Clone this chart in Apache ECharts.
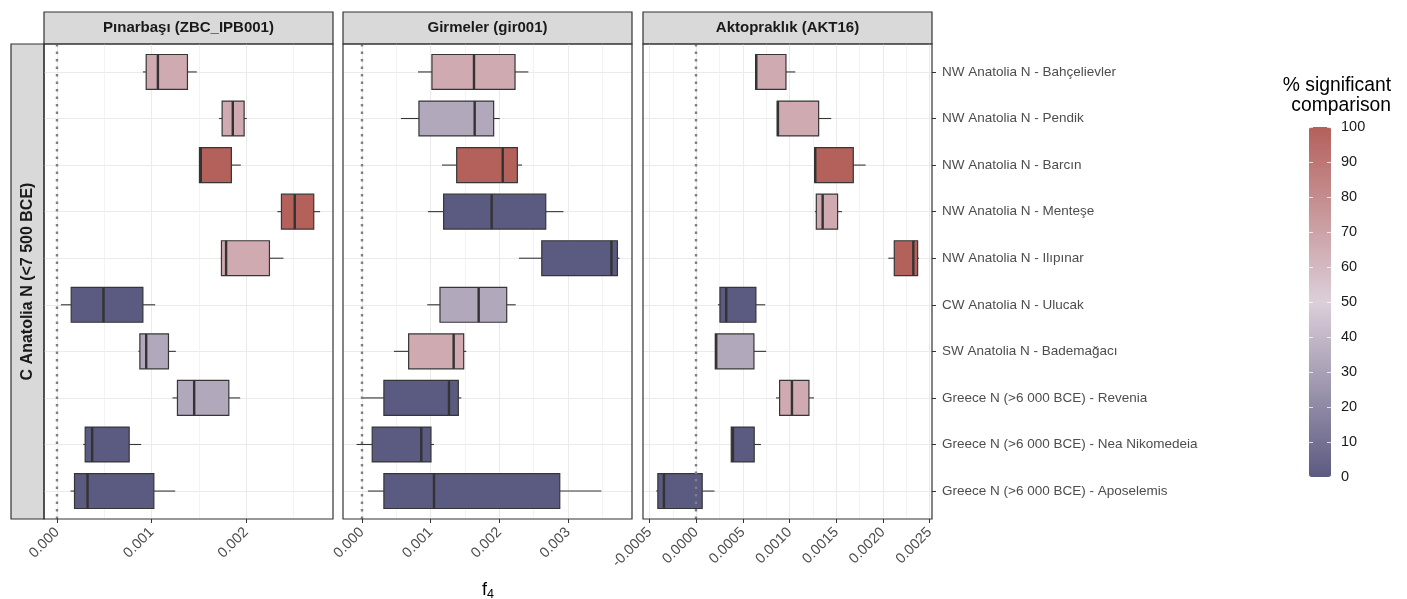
<!DOCTYPE html>
<html>
<head>
<meta charset="utf-8">
<script src="https://cdn.jsdelivr.net/npm/echarts@6/dist/echarts.min.js"></script>
<style>
  html, body { margin: 0; background: #fff; }
  #chart { width: 1407px; height: 599px; }
</style>
</head>
<body>
<div id="chart"></div>
<script>
var populations = [
  'NW Anatolia N - Bahçelievler',
  'NW Anatolia N - Pendik',
  'NW Anatolia N - Barcın',
  'NW Anatolia N - Menteşe',
  'NW Anatolia N - Ilıpınar',
  'CW Anatolia N - Ulucak',
  'SW Anatolia N - Bademağacı',
  'Greece N (>6 000 BCE) - Revenia',
  'Greece N (>6 000 BCE) - Nea Nikomedeia',
  'Greece N (>6 000 BCE) - Aposelemis'
]
var panelTitles = ['Pınarbaşı (ZBC_IPB001)', 'Girmeler (gir001)', 'Aktopraklık (AKT16)']
var rowTitle = 'C Anatolia N (<7 500 BCE)'

// [low whisker, q1, median, q3, high whisker]
var boxPinarbasi = [
  [0.000907, 0.000942, 0.001066, 0.001379, 0.001478],
  [0.001714, 0.001746, 0.001859, 0.001979, 0.002007],
  [0.001506, 0.001506, 0.001520, 0.001844, 0.001944],
  [0.002331, 0.002374, 0.002515, 0.002716, 0.002783],
  [0.001732, 0.001739, 0.001788, 0.002247, 0.002395],
  [0.000039, 0.000148, 0.000490, 0.000907, 0.001037],
  [0.000860, 0.000875, 0.000942, 0.001178, 0.001256],
  [0.001220, 0.001273, 0.001450, 0.001817, 0.001937],
  [0.000275, 0.000296, 0.000370, 0.000762, 0.000889],
  [0.000141, 0.000183, 0.000321, 0.001023, 0.001249]
]
var boxGirmeler = [
  [0.000816, 0.001019, 0.001631, 0.002228, 0.002422],
  [0.000568, 0.000830, 0.001641, 0.001917, 0.002005],
  [0.001165, 0.001379, 0.002049, 0.002262, 0.002330],
  [0.000961, 0.001189, 0.001888, 0.002675, 0.002932],
  [0.002286, 0.002617, 0.003631, 0.003718, 0.003748],
  [0.000951, 0.001136, 0.001699, 0.002107, 0.002238],
  [0.000466, 0.000680, 0.001335, 0.001481, 0.001519],
  [0.000015, 0.000320, 0.001267, 0.001403, 0.001447],
  [-0.000078, 0.000150, 0.000864, 0.001005, 0.001049],
  [0.000087, 0.000320, 0.001049, 0.002879, 0.003485]
]
var boxAktopraklik = [
  [0.000636, 0.000636, 0.000643, 0.000961, 0.001061],
  [0.000868, 0.000868, 0.000875, 0.001311, 0.001446],
  [0.001268, 0.001268, 0.001275, 0.001682, 0.001814],
  [0.001271, 0.001286, 0.001354, 0.001514, 0.001561],
  [0.002057, 0.002121, 0.002325, 0.002371, 0.002386],
  [0.000232, 0.000254, 0.000321, 0.000639, 0.000739],
  [0.000204, 0.000204, 0.000214, 0.000618, 0.000750],
  [0.000854, 0.000893, 0.001025, 0.001207, 0.001261],
  [0.000375, 0.000375, 0.000393, 0.000621, 0.000693],
  [-0.000429, -0.000411, -0.000346, 0.000064, 0.000196]
]

// % significant comparison
var sigPinarbasi = [66.7, 66.7, 100, 100, 66.7, 0, 33.3, 33.3, 0, 0]
var sigGirmeler = [66.7, 33.3, 100, 0, 0, 33.3, 66.7, 0, 0, 0]
var sigAktopraklik = [66.7, 66.7, 100, 66.7, 100, 0, 33.3, 66.7, 0, 0]

var xMin = [-0.00014, -0.000275, -0.00057]
var xMax = [0.00292, 0.00393, 0.002525]
var majorTicks = [
  [0, 0.001, 0.002],
  [0, 0.001, 0.002, 0.003],
  [-0.0005, 0, 0.0005, 0.001, 0.0015, 0.002, 0.0025]
]
var minorTicks = [
  [0.0005, 0.0015, 0.0025],
  [0.0005, 0.0015, 0.0025, 0.0035],
  [-0.00025, 0.00025, 0.00075, 0.00125, 0.00175, 0.00225]
]
var tickDigits = [3, 3, 4]
var rowPositions = [1, 2, 3, 4, 5, 6, 7, 8, 9, 10]

var boxes = [boxPinarbasi, boxGirmeler, boxAktopraklik]
var sigs = [sigPinarbasi, sigGirmeler, sigAktopraklik]

var gridLeft = [44, 343, 643]
var gridWidth = 289
var gridTop = 44
var gridHeight = 475
var font = 'Liberation Sans, Arial, Helvetica, sans-serif'

var chart = echarts.init(document.getElementById('chart'))

function renderBox(params, api) {
  var y = api.value(5)
  var lo = api.coord([api.value(0), y])
  var q1 = api.coord([api.value(1), y])
  var md = api.coord([api.value(2), y])
  var q3 = api.coord([api.value(3), y])
  var hi = api.coord([api.value(4), y])
  var h = Math.abs(api.size([0, 0.75])[1])
  var fill = api.visual('color')
  var edge = '#363636'
  return {
    type: 'group',
    children: [
      { type: 'line', shape: { x1: lo[0], y1: lo[1], x2: q1[0], y2: q1[1] }, style: { stroke: edge, lineWidth: 1.1 } },
      { type: 'line', shape: { x1: q3[0], y1: q3[1], x2: hi[0], y2: hi[1] }, style: { stroke: edge, lineWidth: 1.1 } },
      { type: 'rect', shape: { x: q1[0], y: q1[1] - h / 2, width: q3[0] - q1[0], height: h }, style: { fill: fill, stroke: edge, lineWidth: 1.2 } },
      { type: 'line', shape: { x1: md[0], y1: md[1] - h / 2, x2: md[0], y2: md[1] + h / 2 }, style: { stroke: '#333', lineWidth: 2.4 } }
    ]
  }
}

var grids = []
var xAxes = []
var yAxes = []
var series = []
var graphics = []

for (var p = 0; p < 3; p++) {
  grids.push({
    left: gridLeft[p], top: gridTop, width: gridWidth, height: gridHeight,
    show: true, backgroundColor: '#fff', borderWidth: 0
  })
  // minor grid lines
  xAxes.push({
    type: 'value', gridIndex: p, min: xMin[p], max: xMax[p], position: 'bottom',
    axisLine: { show: false, onZero: false },
    axisTick: { show: false, customValues: minorTicks[p] },
    axisLabel: { show: false, customValues: minorTicks[p] },
    splitLine: { show: true, lineStyle: { color: '#eeeeee', width: 0.7 } }
  })
  // major grid lines, ticks and labels
  xAxes.push({
    type: 'value', gridIndex: p, min: xMin[p], max: xMax[p], position: 'bottom',
    axisLine: { show: false, onZero: false },
    axisTick: { show: true, length: 4, customValues: majorTicks[p], lineStyle: { color: '#333' } },
    axisLabel: {
      customValues: majorTicks[p], rotate: 45, margin: 11,
      fontFamily: font, fontSize: 14.5, color: '#4d4d4d',
      formatter: (function (d) { return function (v) { return v.toFixed(d) } })(tickDigits[p])
    },
    splitLine: { show: true, lineStyle: { color: '#ebebeb', width: 1.1 } }
  })
  yAxes.push({
    type: 'value', gridIndex: p, inverse: true, min: 0.4, max: 10.6, position: 'right',
    axisLine: { show: false, onZero: false },
    axisTick: { show: p === 2, length: 4, customValues: rowPositions, lineStyle: { color: '#333' } },
    axisLabel: {
      show: p === 2, customValues: rowPositions, margin: 10,
      fontFamily: font, fontSize: 13.5, color: '#4d4d4d',
      formatter: function (v) { return populations[Math.round(v) - 1] }
    },
    splitLine: { show: true, lineStyle: { color: '#ebebeb', width: 1.1 } }
  })
  var data = boxes[p].map(function (b, i) { return b.concat([rowPositions[i], sigs[p][i]]) })
  series.push({
    type: 'custom',
    name: panelTitles[p],
    xAxisIndex: p * 2,
    yAxisIndex: p,
    renderItem: renderBox,
    encode: { x: [0, 1, 2, 3, 4], y: 5 },
    data: data,
    markLine: {
      silent: true, symbol: 'none', label: { show: false },
      lineStyle: { color: '#808080', type: [2.5, 5], width: 2.4 },
      data: [{ xAxis: 0 }]
    },
    z: 3
  })
  // panel border on top of grid lines
  graphics.push({
    type: 'rect', z: 100, shape: { x: gridLeft[p], y: gridTop, width: gridWidth, height: gridHeight },
    style: { fill: 'none', stroke: '#333', lineWidth: 1.2 }
  })
  graphics.push({
    type: 'rect', shape: { x: gridLeft[p], y: 12, width: gridWidth, height: 32 },
    style: { fill: '#d9d9d9', stroke: '#333', lineWidth: 1.2 }
  })
  graphics.push({
    type: 'text', x: gridLeft[p] + gridWidth / 2, y: 28,
    style: { text: panelTitles[p], fill: '#1a1a1a', font: 'bold 15px ' + font, align: 'center', verticalAlign: 'middle' }
  })
}

// left row strip
graphics.push({
  type: 'rect', shape: { x: 11, y: gridTop, width: 33, height: gridHeight },
  style: { fill: '#d9d9d9', stroke: '#333', lineWidth: 1.2 }
})
graphics.push({
  type: 'text', x: 28, y: gridTop + gridHeight / 2, rotation: Math.PI / 2,
  style: { text: rowTitle, fill: '#1a1a1a', font: 'bold 16px ' + font, align: 'center', verticalAlign: 'middle' }
})
// x axis title
graphics.push({
  type: 'text', x: 488, y: 590,
  style: {
    text: '{f|f}{s|4}', align: 'center', verticalAlign: 'middle',
    rich: {
      f: { fontFamily: font, fontSize: 18, fill: '#000' },
      s: { fontFamily: font, fontSize: 12.5, fill: '#000', padding: [10, 0, 0, 0] }
    }
  }
})
// legend title
graphics.push({
  type: 'text', x: 1391, y: 96,
  style: {
    text: '% significant\ncomparison', fill: '#000', font: '19.3px ' + font,
    align: 'right', verticalAlign: 'middle', lineHeight: 20
  }
})

// legend scale axis
grids.push({ left: 1309, top: 127, width: 22, height: 350, show: false })
xAxes.push({ type: 'value', gridIndex: 3, min: 0, max: 1, show: false })
yAxes.push({
  type: 'value', gridIndex: 3, min: 0, max: 100, interval: 10, position: 'right', z: 10,
  axisLine: { show: false, onZero: false },
  axisTick: { show: false },
  axisLabel: { margin: 10, fontFamily: font, fontSize: 14.5, color: '#1a1a1a' },
  splitLine: { show: true, lineStyle: { color: 'rgba(255,255,255,0.75)', type: [4, 14], width: 1 } }
})

chart.setOption({
  animation: false,
  grid: grids,
  xAxis: xAxes,
  yAxis: yAxes,
  visualMap: {
    type: 'continuous', min: 0, max: 100, dimension: 6, seriesIndex: [0, 1, 2],
    calculable: false, hoverLink: false, orient: 'vertical',
    left: 1309, top: 127, itemWidth: 22, itemHeight: 350, padding: 0,
    inRange: { color: ['#5b5a80', '#dccfda', '#b4605b'] }
  },
  graphic: graphics,
  series: series
})
</script>
</body>
</html>
